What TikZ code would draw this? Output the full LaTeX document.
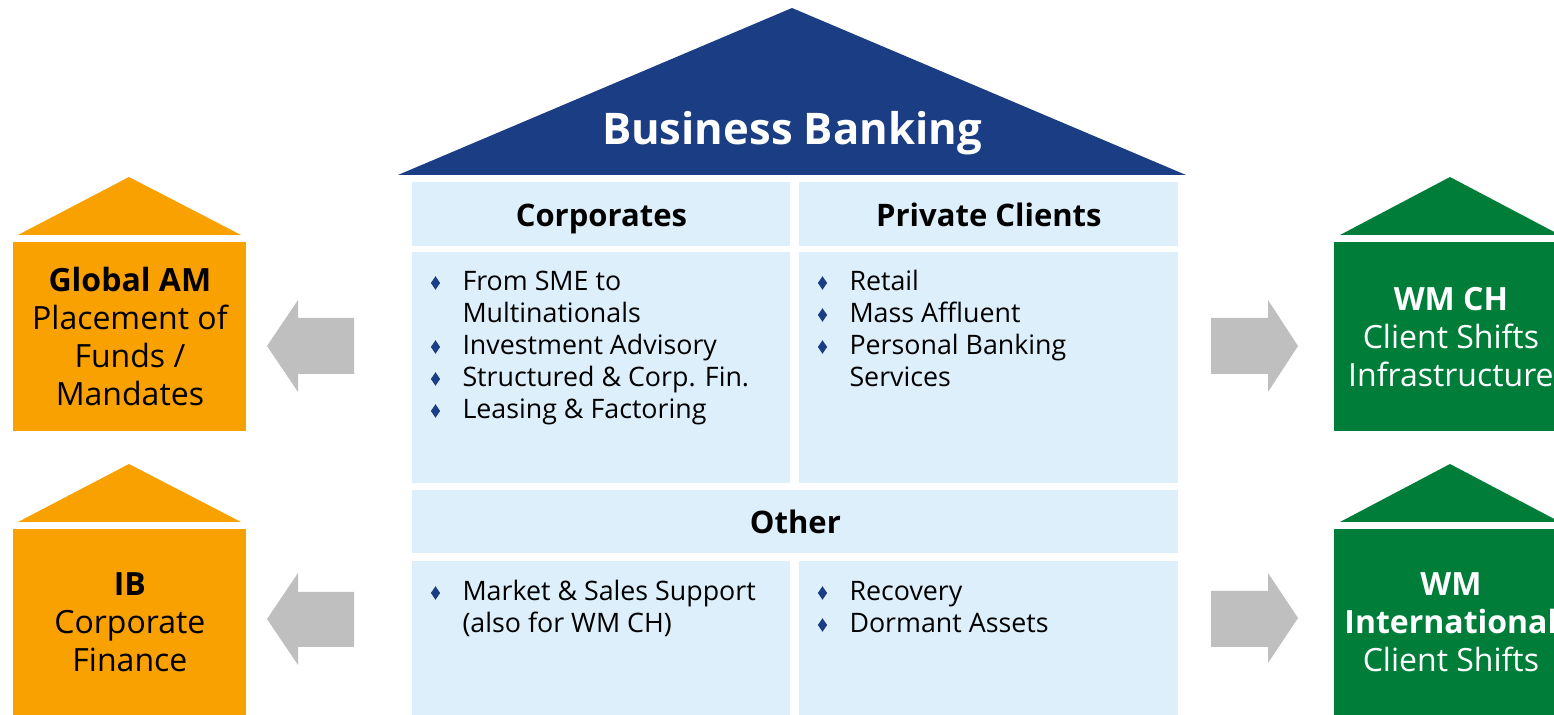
\documentclass[tikz,border=0pt]{standalone}
\usepackage{fontspec}
\setmainfont{Open Sans}
\usetikzlibrary{positioning}
\definecolor{bbnavy}{RGB}{27,61,132}
\definecolor{bblight}{RGB}{221,239,250}
\definecolor{amorange}{RGB}{248,161,0}
\definecolor{wmgreen}{RGB}{0,126,57}
\definecolor{flowgray}{RGB}{191,191,191}
% small navy diamond used as list bullet
\newcommand{\bul}{\tikz[baseline=0pt]\fill[bbnavy] (0,4pt) -- (2.3pt,0.6pt) -- (4.6pt,4pt) -- (2.3pt,7.4pt) -- cycle;}

\begin{document}
\begin{tikzpicture}[x=0.5pt,y=-0.5pt,
    cell/.style={rectangle,fill=bblight,inner sep=0pt,anchor=north west},
    head/.style={font=\bfseries\fontsize{15.5}{18}\selectfont,text height=13pt,text depth=1pt},
    items/.style={anchor=base west,inner sep=0pt,font=\fontsize{13.4}{16}\selectfont},
    unit/.style={rectangle,inner sep=0pt,anchor=north west,minimum width=116.5pt,
      align=center,font=\fontsize{16}{19}\selectfont},
    flowarrow/.style={fill=flowgray}
  ]
    \useasboundingbox (0,0) rectangle (1554,715);

    % main house
    \fill[bbnavy] (398,175) -- (792,8) -- (1186,175) -- cycle;
    \node[anchor=base,text=white,font=\bfseries\fontsize{21.8}{26}\selectfont] (title) at (792,145) {Business Banking};

    \node[cell,head,minimum width=189pt,minimum height=32pt] (corp) at (412,182) {Corporates};
    \node[cell,head,minimum width=189.5pt,minimum height=32pt] (priv) at (799,182) {Private Clients};
    \node[cell,minimum width=189pt,minimum height=115.5pt] (corpbody) at (412,252) {};
    \node[cell,minimum width=189.5pt,minimum height=115.5pt] (privbody) at (799,252) {};
    \node[cell,head,minimum width=383pt,minimum height=31.5pt] (other) at (412,490) {Other};
    \node[cell,minimum width=189pt,minimum height=77pt] (otherleft) at (412,561) {};
    \node[cell,minimum width=189.5pt,minimum height=77pt] (otherright) at (799,561) {};

    \node[items] (corplist) at (430.5,291) {\begin{tabular}[t]{@{}l@{\hspace{11.2pt}}l@{}}
      \bul & From SME to\\
           & Multinationals\\
      \bul & Investment Advisory\\
      \bul & Structured \& Corp. Fin.\\
      \bul & Leasing \& Factoring
    \end{tabular}};
    \node[items] (privlist) at (817.5,291) {\begin{tabular}[t]{@{}l@{\hspace{11.2pt}}l@{}}
      \bul & Retail\\
      \bul & Mass Affluent\\
      \bul & Personal Banking\\
           & Services
    \end{tabular}};
    \node[items] (otherlistl) at (430.5,601) {\begin{tabular}[t]{@{}l@{\hspace{11.2pt}}l@{}}
      \bul & Market \& Sales Support\\
           & (also for WM CH)
    \end{tabular}};
    \node[items] (otherlistr) at (817.5,601) {\begin{tabular}[t]{@{}l@{\hspace{11.2pt}}l@{}}
      \bul & Recovery\\
      \bul & Dormant Assets
    \end{tabular}};

    % side houses
    \fill[amorange] (18,235) -- (129,177) -- (241,235) -- cycle;
    \node[unit,fill=amorange,minimum height=94.5pt] (gam) at (13,242)
      {\textbf{Global AM}\\Placement of\\Funds /\\Mandates};
    \fill[amorange] (18,522) -- (129,464) -- (241,522) -- cycle;
    \node[unit,fill=amorange,minimum height=93pt] (ib) at (13,529)
      {\textbf{IB}\\Corporate\\Finance};
    \fill[wmgreen] (1340,235) -- (1450,177) -- (1560,235) -- cycle;
    \node[unit,fill=wmgreen,text=white,minimum height=94.5pt] (wmch) at (1334,242)
      {\textbf{WM CH}\\Client Shifts\\Infrastructure};
    \fill[wmgreen] (1340,522) -- (1450,464) -- (1560,522) -- cycle;
    \node[unit,fill=wmgreen,text=white,minimum height=93pt] (wmint) at (1334,529)
      {\textbf{WM}\\\textbf{International}\\Client Shifts};

    % block arrows between the houses
    \fill[flowarrow] (354,318) -- (298,318) -- (298,300) -- (267,346) -- (298,392) -- (298,374) -- (354,374) -- cycle;
    \fill[flowarrow] (354,592) -- (298,592) -- (298,573) -- (267,619) -- (298,665) -- (298,647) -- (354,647) -- cycle;
    \fill[flowarrow] (1211,318) -- (1268,318) -- (1268,300) -- (1298,346) -- (1268,392) -- (1268,374) -- (1211,374) -- cycle;
    \fill[flowarrow] (1211,591) -- (1268,591) -- (1268,573) -- (1298,618) -- (1268,663) -- (1268,647) -- (1211,647) -- cycle;
  \end{tikzpicture}
\end{document}
